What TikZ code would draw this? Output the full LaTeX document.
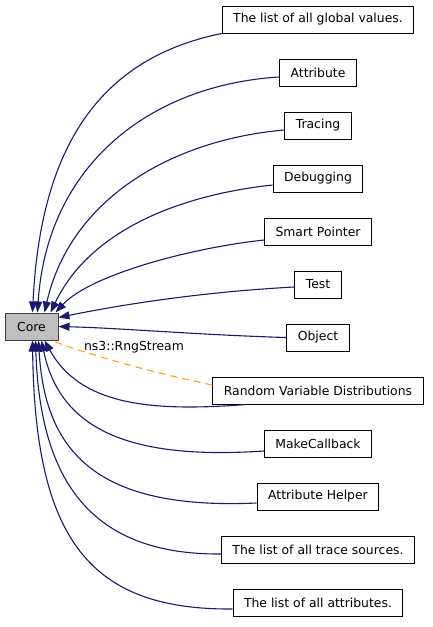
\documentclass[tikz,border=0pt]{standalone}
\usepackage{fontspec}
\setmainfont{DejaVu Sans}
\usepackage{tikz}
\usetikzlibrary{arrows.meta,positioning,calc}
\definecolor{edgeblue}{HTML}{191970}
\definecolor{coregray}{HTML}{BFBFBF}
\definecolor{usageorange}{HTML}{FFA500}
\tikzstyle{group} = [rectangle, draw=black, line width=1pt, fill=white,
  minimum height=27pt, inner xsep=11pt, inner ysep=0pt,
  font=\fontsize{12.4}{14}\selectfont]
\tikzstyle{core} = [group, draw=black!75, fill=coregray, minimum width=53pt]
\tikzstyle{edge} = [draw=edgeblue, line width=1.1pt,
  -{Triangle[length=11pt,width=8pt]}]
\tikzstyle{usage} = [draw=usageorange, line width=1.1pt, dash pattern=on 7pt off 5pt]
\tikzstyle{lbl} = [font=\fontsize{12.4}{14}\selectfont, inner sep=0pt]

\begin{document}
\begin{tikzpicture}[x=1pt, y=-1pt]
\useasboundingbox (0,0) rectangle (432,627);

% ==========================================
% CORE (left)
% ==========================================
\node[core] (core) at (31.5,326.5) {Core};

% ==========================================
% MODULES (right column)
% ==========================================
\node[group] (glob) at (318,19.5) {The list of all global values.};
\node[group] (attr)   [below=25pt of glob]   {Attribute};
\node[group] (trac)   [below=25pt of attr]   {Tracing};
\node[group] (debug)  [below=25pt of trac]   {Debugging};
\node[group] (smart)  [below=25pt of debug]  {Smart Pointer};
\node[group] (test)   [below=25pt of smart]  {Test};
\node[group] (obj)    [below=25pt of test]   {Object};
\node[group] (rvd)    [below=25pt of obj]    {Random Variable Distributions};
\node[group] (mcb)    [below=25pt of rvd]    {MakeCallback};
\node[group] (ahelp)  [below=25pt of mcb]    {Attribute Helper};
\node[group] (tsrc)   [below=25pt of ahelp]  {The list of all trace sources.};
\node[group] (attrs)  [below=25pt of tsrc]   {The list of all attributes.};

% ==========================================
% EDGES into Core (top side)
% ==========================================
\draw[edge] (glob.south west) .. controls (90,60) and (40,160) .. ([xshift=28pt]core.north west);
\draw[edge] ([yshift=-4.5pt]attr.west) .. controls (150,85) and (47,165) .. ([xshift=33pt]core.north west);
\draw[edge] ([yshift=-4.5pt]trac.west) .. controls (170,140) and (70,200) .. ([xshift=40pt]core.north west);
\draw[edge] ([yshift=-6.5pt]debug.west) .. controls (180,195) and (90,230) .. ([xshift=46pt]core.north west);
\draw[edge] ([yshift=-8.5pt]smart.west) .. controls (190,248) and (90,275) .. ([xshift=51pt]core.north west);
\draw[edge] ([yshift=-2.5pt]test.west) .. controls (200,292) and (120,305) .. ([yshift=-5pt]core.north east);
\draw[edge] (obj.west) .. controls (200,335) and (120,328) .. (core.east);

% ==========================================
% EDGES into Core (bottom side)
% ==========================================
\draw[edge] ([xshift=34pt]rvd.south west) .. controls (150,412) and (80,405) .. ([xshift=40pt]core.south west);
\draw[edge] ([yshift=-7.5pt]mcb.west) .. controls (130,460) and (60,430) .. ([xshift=37pt]core.south west);
\draw[edge] ([yshift=-6.5pt]ahelp.west) .. controls (100,510) and (45,455) .. ([xshift=34pt]core.south west);
\draw[edge] ([yshift=-4.5pt]tsrc.west) .. controls (90,555) and (40,480) .. ([xshift=31pt]core.south west);
\draw[edge] ([yshift=-6.5pt]attrs.west) .. controls (90,610) and (35,540) .. ([xshift=28pt]core.south west);

% usage edge
\draw[usage] ([yshift=5.5pt]rvd.west) .. controls (150,372) and (90,355) .. ([xshift=47pt]core.south west);
\node[lbl] (rng) at (134,347) {ns3::RngStream};

\end{tikzpicture}
\end{document}
